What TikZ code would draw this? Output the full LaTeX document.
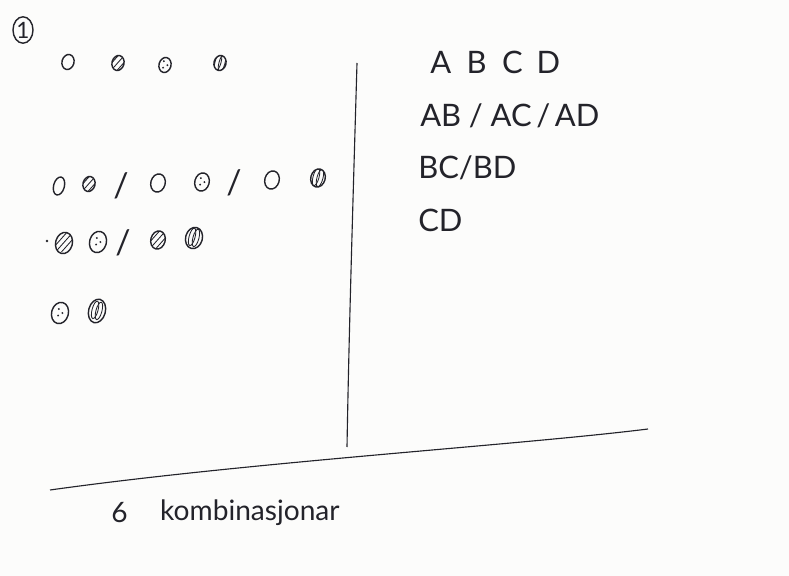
\documentclass[tikz,border=0pt]{standalone}
\usepackage{fontspec}
\setmainfont{Lato}
\usetikzlibrary{
  shapes.geometric,
  positioning
}
\definecolor{ink}{RGB}{35,35,42}
\definecolor{paper}{RGB}{252,252,251}
\tikzset{
  ball/.style={
    draw=ink, ellipse, line width=1pt, inner sep=0pt,
    minimum width=0.36cm, minimum height=0.46cm, rotate=-15
  },
  bigball/.style={
    ball, minimum width=0.42cm, minimum height=0.54cm
  },
  smallball/.style={
    ball, minimum width=0.3cm, minimum height=0.38cm
  },
  hatched/.style={
    path picture={
      \foreach \k in {-5,0,5}
        \draw[ink, line width=0.6pt]
          ([shift={({\k-5},10)}]path picture bounding box.center) -- ++(10,-20);
    }
  },
  speckled/.style={
    path picture={
      \fill[ink] ([shift={(-2,-3)}]path picture bounding box.center) circle (0.75pt);
      \fill[ink] ([shift={(2.5,0)}]path picture bounding box.center) circle (0.75pt);
      \fill[ink] ([shift={(-1,3.5)}]path picture bounding box.center) circle (0.75pt);
    }
  },
  seamed/.style={
    path picture={
      \draw[ink, line width=0.6pt]
        ([shift={(-2,0)}]path picture bounding box.center)
        ellipse [x radius=3, y radius=9];
      \draw[ink, line width=0.6pt]
        ([shift={(2,0)}]path picture bounding box.center)
        ellipse [x radius=3, y radius=9];
    }
  },
  slashmark/.style={
    font=\fontsize{24}{26}\selectfont, text=ink, inner sep=0pt
  },
  rowtext/.style={
    font=\fontsize{22}{26}\selectfont, text=ink,
    anchor=west, inner sep=0pt
  },
  counttext/.style={
    rowtext, font=\fontsize{20}{24}\selectfont
  },
  tasknum/.style={
    draw=ink, ellipse, line width=1pt, inner sep=0pt,
    minimum width=0.5cm, minimum height=0.66cm,
    font=\fontsize{16}{18}\selectfont, text=ink
  },
  divider/.style={
    draw=ink, line width=0.8pt
  },
}

\begin{document}
\begin{tikzpicture}[x=0.025cm, y=-0.025cm]

  \fill[paper] (0,0) rectangle (789,576);
  \useasboundingbox (0,0) rectangle (789,576);

  \node[tasknum] (num) at (23,30) {1};

  %% the four balls
  \node[smallball] (a1) at (68,62) {};
  \node[smallball, hatched] (b1) at (118,63) {};
  \node[smallball, speckled] (c1) at (165,65) {};
  \node[smallball, seamed] (d1) at (220,63) {};

  %% pairs with the first ball
  \node[ball, minimum width=0.27cm] (a2) at (59,186) {};
  \node[smallball, hatched] (b2) at (89,184) {};
  \node[slashmark] (s1) at (121,186) {/};
  \node[ball] (a3) at (158,183) {};
  \node[ball, speckled] (c2) at (202,182) {};
  \node[slashmark] (s2) at (234,183) {/};
  \node[ball] (a4) at (272,180) {};
  \node[ball, seamed] (d2) at (318,178) {};

  %% pairs with the second ball
  \fill[ink] (47,241) circle (0.9pt);
  \node[bigball, hatched] (b3) at (64,243) {};
  \node[bigball, speckled] (c3) at (98,242) {};
  \node[slashmark] (s3) at (123,243) {/};
  \node[ball, hatched] (b4) at (158,240) {};
  \node[bigball, seamed] (d3) at (194,238) {};

  %% last pair
  \node[bigball, speckled] (c4) at (60,313) {};
  \node[bigball, seamed, minimum height=0.6cm] (d4) at (97,311) {};

  %% letters
  \node[rowtext] (r1) at (430,62)
    {A\hspace{0.5em}B\hspace{0.5em}C\hspace{0.45em}D};
  \node[rowtext] (r2) at (420,116) {AB\hspace{0.25em}/\hspace{0.25em}AC\hspace{0.15em}/\hspace{0.15em}AD};
  \node[rowtext] (r3) at (418,168) {BC/BD};
  \node[rowtext] (r4) at (418,220) {CD};

  %% dividing lines
  \coordinate (vtop) at (357,63);
  \coordinate (vbot) at (347,447);
  \coordinate (hleft) at (50,490);
  \coordinate (hright) at (648,429);
  \draw[divider] (vtop) .. controls (353,200) and (349,330) .. (vbot);
  \draw[divider] (hleft) .. controls (250,462) and (520,445) .. (hright);

  %% count
  \node[counttext] (six) at (111,513) {6};
  \node[counttext, right=0.8cm of six] (comb) {kombinasjonar};

\end{tikzpicture}
\end{document}
